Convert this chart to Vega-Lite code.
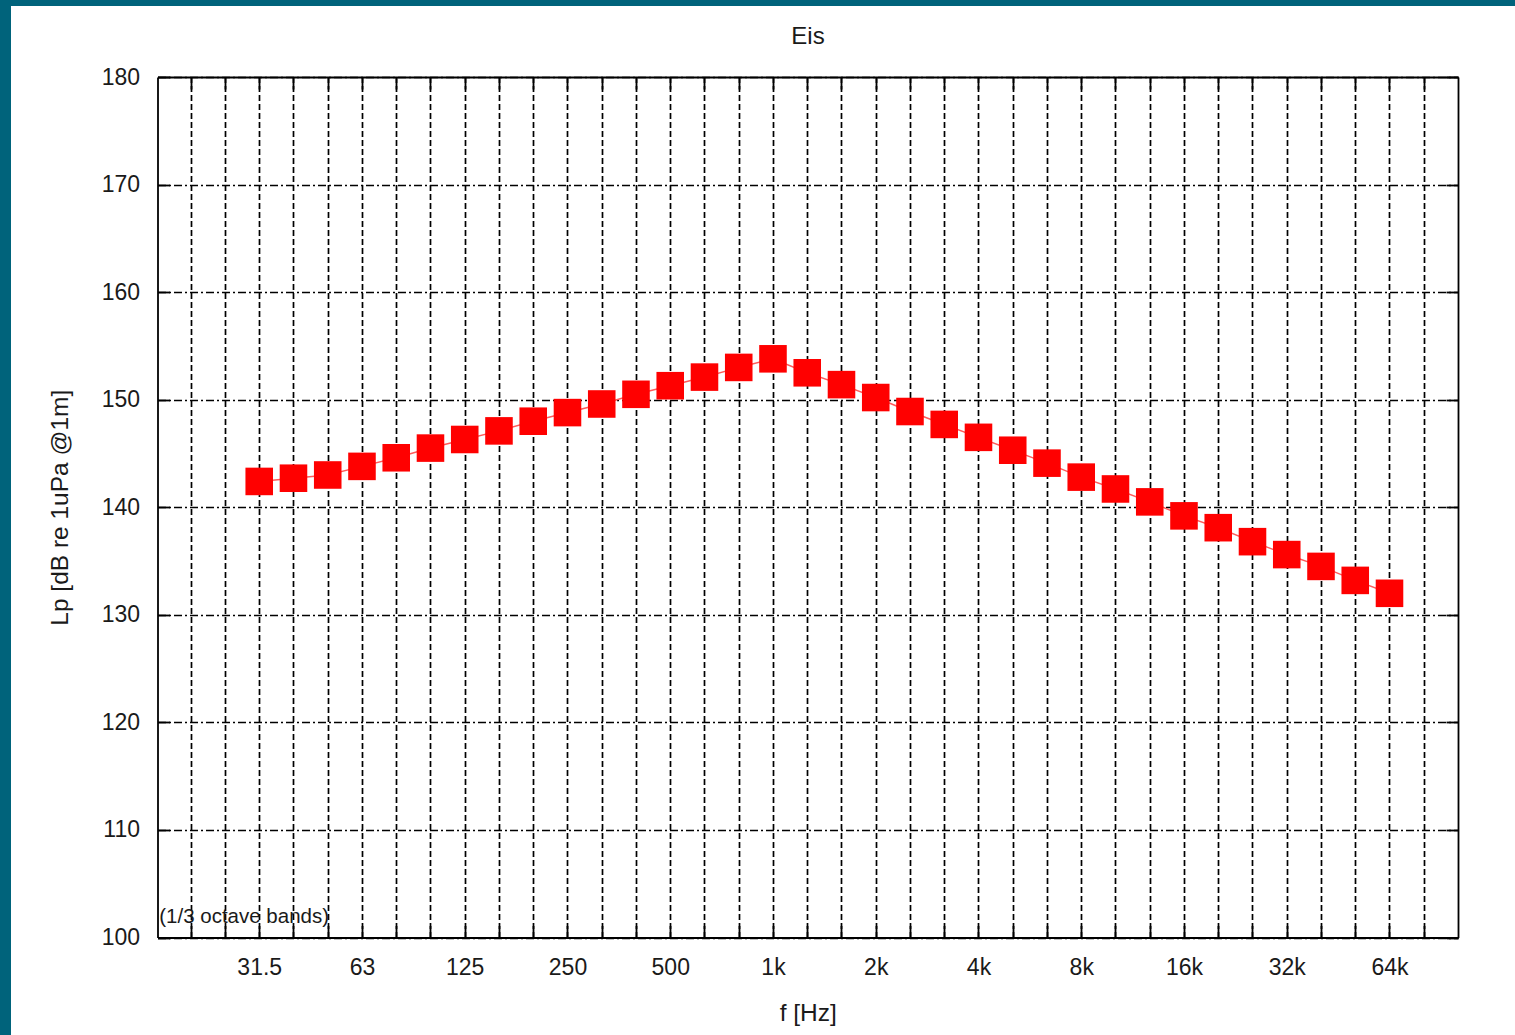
{
  "$schema": "https://vega.github.io/schema/vega-lite/v6.json",
  "width": 1504,
  "height": 1029,
  "autosize": {"type": "none"},
  "padding": {"left": 11, "top": 6, "right": 0, "bottom": 0},
  "background": "#00637b",
  "title": {"text": "Eis", "fontSize": 24, "font": "Liberation Sans", "fontWeight": "normal", "color": "#1a1a1a", "offset": 0, "dy": 67, "dx": 45, "anchor": "middle", "baseline": "bottom"},
  "config": {
    "view": {"fill": "white", "stroke": null},
    "axis": {"labelFont": "Liberation Sans", "titleFont": "Liberation Sans", "labelColor": "#1a1a1a", "titleColor": "#1a1a1a", "labelFontSize": 23, "titleFontSize": 24.5, "titleFontWeight": "normal", "domain": true, "domainColor": "black", "domainWidth": 1.8, "tickColor": "black", "tickWidth": 1.8, "tickSize": -12, "labelOverlap": false, "labelFlush": false}
  },
  "datasets": {
    "spectrum": [
      {"band": 0, "freq": "31.5", "lp": 142.4},
      {"band": 1, "freq": "40", "lp": 142.7},
      {"band": 2, "freq": "50", "lp": 143.0},
      {"band": 3, "freq": "63", "lp": 143.8},
      {"band": 4, "freq": "80", "lp": 144.6},
      {"band": 5, "freq": "100", "lp": 145.5},
      {"band": 6, "freq": "125", "lp": 146.3},
      {"band": 7, "freq": "160", "lp": 147.1},
      {"band": 8, "freq": "200", "lp": 148.0},
      {"band": 9, "freq": "250", "lp": 148.8},
      {"band": 10, "freq": "315", "lp": 149.6},
      {"band": 11, "freq": "400", "lp": 150.5},
      {"band": 12, "freq": "500", "lp": 151.3},
      {"band": 13, "freq": "630", "lp": 152.1},
      {"band": 14, "freq": "800", "lp": 153.0},
      {"band": 15, "freq": "1k", "lp": 153.8},
      {"band": 16, "freq": "1.25k", "lp": 152.5},
      {"band": 17, "freq": "1.6k", "lp": 151.4},
      {"band": 18, "freq": "2k", "lp": 150.2},
      {"band": 19, "freq": "2.5k", "lp": 148.9},
      {"band": 20, "freq": "3.15k", "lp": 147.7},
      {"band": 21, "freq": "4k", "lp": 146.5},
      {"band": 22, "freq": "5k", "lp": 145.3},
      {"band": 23, "freq": "6.3k", "lp": 144.1},
      {"band": 24, "freq": "8k", "lp": 142.8},
      {"band": 25, "freq": "10k", "lp": 141.7},
      {"band": 26, "freq": "12.5k", "lp": 140.5},
      {"band": 27, "freq": "16k", "lp": 139.2},
      {"band": 28, "freq": "20k", "lp": 138.1},
      {"band": 29, "freq": "25k", "lp": 136.8},
      {"band": 30, "freq": "31.5k", "lp": 135.6},
      {"band": 31, "freq": "40k", "lp": 134.5},
      {"band": 32, "freq": "50k", "lp": 133.2},
      {"band": 33, "freq": "63k", "lp": 132.0}
    ]
  },
  "layer": [
    {
      "data": {"values": [{"note": "(1/3 octave bands)"}]},
      "mark": {"type": "text", "align": "left", "baseline": "alphabetic", "fontSize": 20.5, "font": "Liberation Sans", "color": "#1a1a1a"},
      "encoding": {
        "x": {
          "datum": -2.92, "type": "quantitative",
          "scale": {"domain": [-2.97, 35], "range": [146.5, 1447], "nice": false, "zero": false},
          "axis": {
            "orient": "bottom",
            "offset": -97.5,
            "values": [-2,-1,0,1,2,3,4,5,6,7,8,9,10,11,12,13,14,15,16,17,18,19,20,21,22,23,24,25,26,27,28,29,30,31,32,33,34],
            "labelExpr": "datum.value >= 0 && datum.value % 3 == 0 ? ['31.5','63','125','250','500','1k','2k','4k','8k','16k','32k','64k'][datum.value / 3] : ''",
            "labelAngle": 0,
            "labelPadding": 31,
            "grid": false,
            "title": "f [Hz]", "titlePadding": 22
          }
        },
        "y": {
          "datum": 101.35, "type": "quantitative",
          "scale": {"domain": [100, 180], "range": [931.5, 71], "nice": false, "zero": false},
          "axis": {
            "orient": "left",
            "offset": -146.5,
            "values": [100,110,120,130,140,150,160,170,180],
            "labelPadding": 30,
            "grid": true, "gridColor": "black", "gridOpacity": 1, "gridWidth": 1.7, "gridDash": [8, 3, 2, 3],
            "title": "Lp [dB re 1uPa @1m]", "titlePadding": 29
          }
        },
        "text": {"field": "note", "type": "nominal"}
      }
    },
    {
      "data": {"name": "spectrum"},
      "mark": {"type": "line", "color": "#ff5a5a", "strokeWidth": 1.5},
      "encoding": {
        "x": {"field": "band", "type": "quantitative", "axis": null},
        "y": {"field": "lp", "type": "quantitative", "axis": null}
      }
    },
    {
      "data": {"name": "spectrum"},
      "mark": {"type": "point", "shape": "square", "filled": true, "size": 760, "color": "#ff0000", "opacity": 1},
      "encoding": {
        "x": {
          "field": "band", "type": "quantitative",
          "axis": {"orient": "top", "offset": -71, "values": [-2,-1,0,1,2,3,4,5,6,7,8,9,10,11,12,13,14,15,16,17,18,19,20,21,22,23,24,25,26,27,28,29,30,31,32,33,34], "labels": false, "grid": true, "gridColor": "black", "gridOpacity": 1, "gridWidth": 1.7, "gridDash": [6, 3], "title": null}
        },
        "y": {
          "field": "lp", "type": "quantitative",
          "axis": {"orient": "right", "offset": -57, "values": [100,110,120,130,140,150,160,170,180], "labels": false, "grid": false, "title": null}
        },
        "tooltip": [{"field": "freq", "type": "nominal"}, {"field": "lp", "type": "quantitative"}]
      }
    }
  ],
  "resolve": {"axis": {"x": "independent", "y": "independent"}}
}
